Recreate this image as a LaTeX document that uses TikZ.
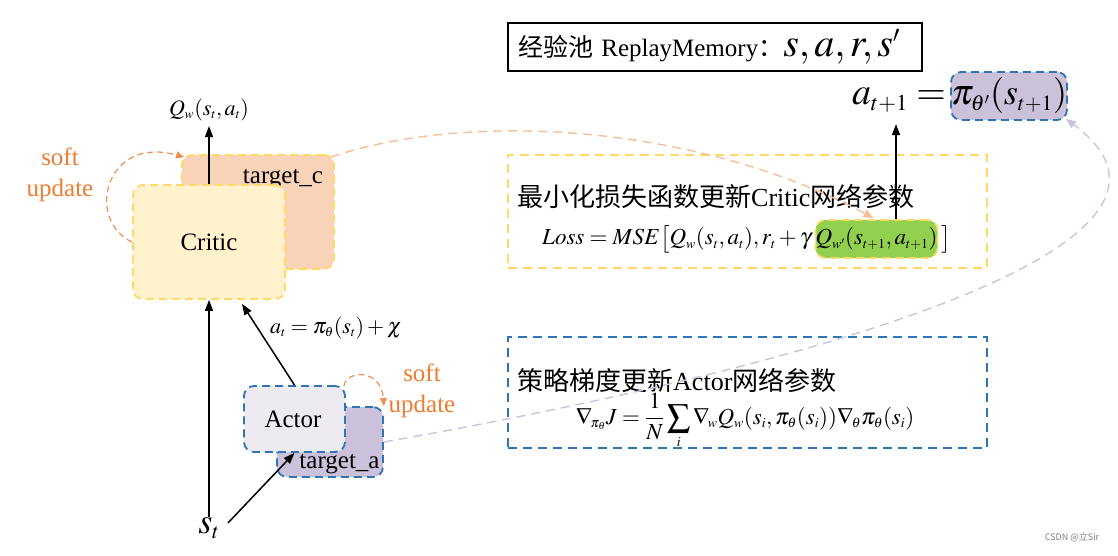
\documentclass[tikz,border=0pt]{standalone}
\usepackage{mathptmx}
\usepackage{fontspec}
\setmainfont{Liberation Serif}
\newfontfamily\cjk{Noto Sans CJK SC}
\usetikzlibrary{arrows.meta,calc}
\makeatletter
\def\defaultscriptratio{.6}
\def\defaultscriptscriptratio{.45}
\makeatother
\definecolor{cyel}{HTML}{FFD966}
\definecolor{cfillc}{HTML}{FFF2CC}
\definecolor{cpeach}{HTML}{F8D3B8}
\definecolor{cblue}{HTML}{2E75B6}
\definecolor{cactor}{HTML}{EDEAF2}
\definecolor{clav}{HTML}{CCC1DA}
\definecolor{cgreen}{HTML}{92D050}
\definecolor{corange}{HTML}{ED7D31}
\definecolor{clorange}{HTML}{F7BF98}
\definecolor{clavline}{HTML}{CBC3DE}
\begin{document}
\begin{tikzpicture}[x=1pt,y=-1pt,
  fs/.style={font=\fontsize{#1}{#1}\selectfont},
  txt/.style={inner sep=0pt},
  ybox/.style={draw=cyel, line width=1.8pt, dash pattern=on 8pt off 5pt, rounded corners=10pt, inner sep=0pt},
  bbox/.style={draw=cblue, line width=1.8pt, dash pattern=on 8pt off 5pt, rounded corners=10pt, inner sep=0pt},
  bigybox/.style={draw=cyel, line width=1.8pt, dash pattern=on 9pt off 6pt, inner sep=0pt},
  bigbbox/.style={draw=cblue, line width=1.8pt, dash pattern=on 9pt off 6pt, inner sep=0pt},
  arr/.style={line width=1.5pt, -{Triangle[length=11pt,width=8pt]}},
  softarr/.style={draw=corange!85, line width=1.2pt, dash pattern=on 6pt off 4pt, -{Triangle[length=8pt,width=7pt]}},
  longor/.style={draw=clorange, line width=1.4pt, dash pattern=on 9pt off 6pt, -{Triangle[length=10pt,width=8pt]}},
  longlav/.style={draw=clavline, line width=1.4pt, dash pattern=on 9pt off 6pt, -{Triangle[length=10pt,width=8pt]}},
  softtxt/.style={fs=25, text=corange, align=center, inner sep=0pt}
]
\fill[white] (0,0) rectangle (1118,556);
\path[use as bounding box] (0,0) rectangle (1118,556);

% big boxes on the right
\node[draw=black, line width=1.2pt, text width=394pt, inner xsep=10pt, inner ysep=0pt,
      minimum height=48pt, align=left, fs=25] (rm) at (715,47)
  {{\cjk 经验池} ReplayMemory{\cjk ：}{\fontsize{40}{40}\selectfont$s,a,r,s'$}};
\node[bigybox, minimum width=479pt, minimum height=113pt] (yb) at (747.5,211.5) {};
\node[bigbbox, minimum width=479pt, minimum height=111pt] (bb) at (747.5,392.5) {};

% critic and target
\node[ybox, fill=cpeach, minimum width=152pt, minimum height=114pt] (tc) at (258,212) {};
\node[txt, fs=25, anchor=base] (tctxt) at (283,183) {target\_c};
\node[ybox, fill=cfillc, minimum width=152pt, minimum height=114pt] (critic) at (209,242) {};
\node[txt, fs=25, anchor=base] (crtxt) at (209,250) {Critic};

% actor and target
\node[bbox, fill=clav, minimum width=106pt, minimum height=70pt] (ta) at (330,442) {};
\node[txt, fs=25, anchor=base] (tatxt) at (339.5,468) {target\_a};
\node[bbox, fill=cactor, minimum width=101pt, minimum height=66pt] (actor) at (294.5,419) {};
\node[txt, fs=25, anchor=base] (actxt) at (293,427) {Actor};

% labels
\node[txt, fs=22] (Q) at (209,110) {$Q_w(s_t,a_t)$};
\node[txt, fs=22] (atl) at (336,328) {$a_t=\pi_\theta(s_t)+\chi$};
\node[txt, fs=36] (st) at (209,528) {$s_t$};
\node[softtxt] (soft1) at (60,175) {soft\\[6pt]update};
\node[softtxt] (soft2) at (422,391) {soft\\[6pt]update};

% a_{t+1}
\node[bbox, fill=clav, minimum width=108pt, minimum height=48pt, fs=36] (pi) at (1009,96) {$\pi_{\theta'}(s_{t+1})$};
\node[txt, fs=38, anchor=base east] (atp) at ($(pi.base west)+(-4,0)$) {$a_{t+1} =$};

% critic loss
\node[txt, fs=26, anchor=west] (ytitle) at (517,197) {{\cjk 最小化损失函数更新}Critic{\cjk 网络参数}};
\node[ybox, fill=cgreen, minimum width=117pt, minimum height=38pt, fs=23] (green) at (876.5,239) {$Q_{w'}(s_{t+1},a_{t+1})$};
\node[txt, fs=23, anchor=base east] (loss) at ($(green.base west)+(-3,0)$) {$Loss = MSE\big[Q_w(s_t,a_t), r_t + \gamma$};
\node[txt, fs=23, anchor=base west] (rbr) at ($(green.base east)+(3,0)$) {$\big]$};

% actor gradient
\node[txt, fs=26, anchor=west] (btitle) at (517,380) {{\cjk 策略梯度更新}Actor{\cjk 网络参数}};
\node[txt, fs=23] (grad) at (745,421) {$\displaystyle \nabla_{\!\pi_\theta} J = \frac{1}{N}\sum_i \nabla_{\!w} Q_w(s_i,\pi_\theta(s_i))\nabla_{\!\theta} \pi_\theta(s_i)$};

% watermark
\node[txt, font=\cjk\fontsize{9}{9}\selectfont, text=gray] (wm) at (1072,537) {CSDN @立Sir};

% arrows
\draw[arr] (critic.north) -- ($(critic.north)+(0,-58)$);
\draw[arr] (st.north) -- (critic.south);
\draw[arr] ($(st.east)+(8,-5)$) -- (actor.south);
\draw[arr] (actor.north) -- ($(critic.south)+(33,4)$);
\draw[arr] ($(green.north)+(19.5,0)$) -- ($(green.north)+(19.5,-95)$);

% curves
\draw[softarr] (critic.west) .. controls (85,220) and (105,135) .. ($(tc.north west)+(3,3)$);
\draw[softarr] ($(actor.north east)+(-2,1)$) .. controls (346,370) and (381,368) .. (ta.north east);
\draw[longor] ($(tc.north east)+(-4,3)$) .. controls (470,110) and (700,125) .. ($(green.north)+(-3,-1)$);
\draw[longlav] (ta.east) .. controls (850,360) and (1230,240) .. ($(pi.south east)+(-2,-2)$);
\end{tikzpicture}
\end{document}
